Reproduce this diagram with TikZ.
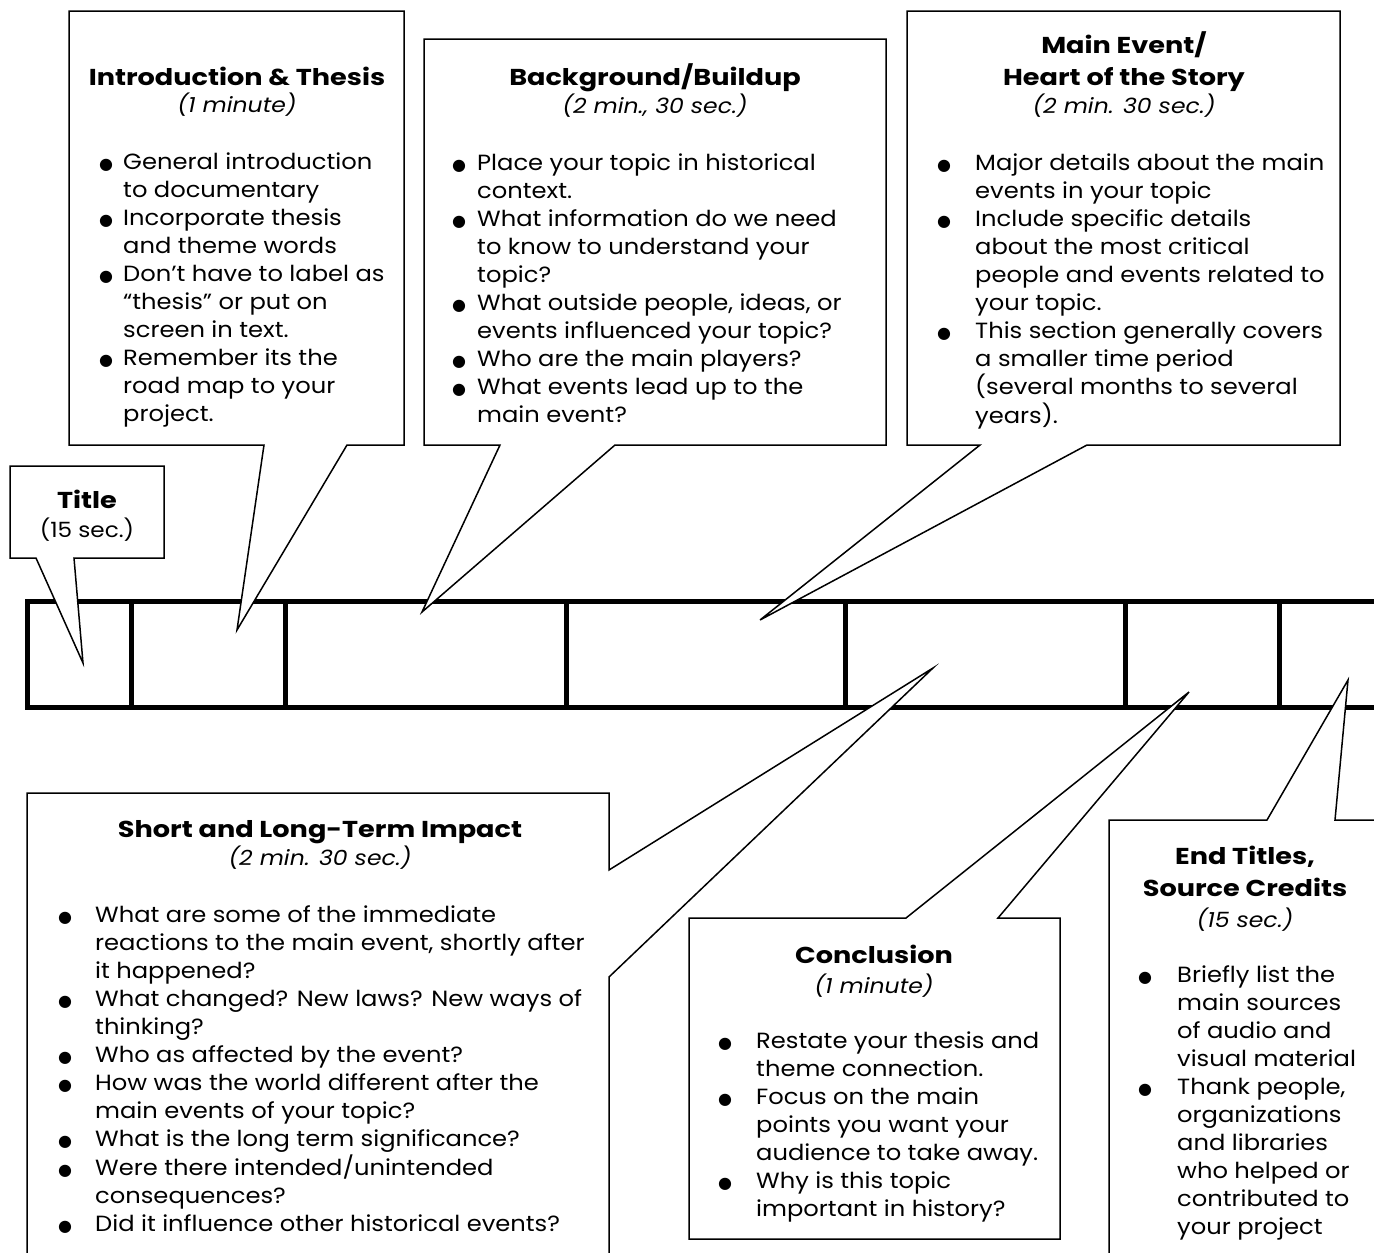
\documentclass[tikz,border=0pt]{standalone}
\usepackage{fontspec}
\setmainfont{Poppins}[FakeStretch=1.1]
\newfontfamily\headfont{Poppins}[FakeStretch=1.18]
\newfontfamily\subfont{Poppins}[FakeStretch=1.12]
\newfontfamily\symfont{DejaVu Sans}
\usetikzlibrary{positioning}
\newcommand{\dotmark}{{\symfont\fontsize{16}{16}\selectfont ●}}
\newcommand{\bitems}[2]{\begin{tabular}[t]{@{}p{#1}@{}l@{}}#2\end{tabular}}
\tikzset{
  bar/.style={line width=5pt,line join=miter},
  callout/.style={draw=black,fill=white,line width=1.5pt,line join=miter},
  head/.style={anchor=base,inner sep=0pt,font=\headfont\bfseries\fontsize{23}{28}\selectfont},
  sub/.style={anchor=base,inner sep=0pt,font=\subfont\itshape\fontsize{21}{28}\selectfont},
  plain/.style={anchor=base,inner sep=0pt,font=\fontsize{21}{28}\selectfont},
  body/.style={anchor=base west,inner sep=0pt,font=\fontsize{22}{28}\selectfont},
}
\begin{document}
\begin{tikzpicture}[x=1pt,y=-1pt]
\useasboundingbox (0,0) rectangle (1374,1253);

% timeline
\draw[bar] (1390,601) -- (27,601) -- (27,707) -- (1390,707);
\foreach \x in {131,285,566,845,1125,1279}
  \draw[bar] (\x,601) -- (\x,707);

% tail tips inside the timeline
\coordinate (tipTitle) at (83,663);
\coordinate (tipIntro) at (237,630);
\coordinate (tipBack)  at (422,612);
\coordinate (tipMain)  at (760,620);
\coordinate (tipImp)   at (933,668);
\coordinate (tipConc)  at (1189,692);
\coordinate (tipEnd)   at (1348,680);

% callouts
\draw[callout] (10,466) -- (164,466) -- (164,558) -- (74,558) -- (tipTitle) -- (36,558) -- (10,558) -- cycle;
\draw[callout] (69,11) -- (404,11) -- (404,445) -- (347,445) -- (tipIntro) -- (264,445) -- (69,445) -- cycle;
\draw[callout] (424,39) -- (886,39) -- (886,445) -- (615,445) -- (tipBack) -- (500,445) -- (424,445) -- cycle;
\draw[callout] (907,11) -- (1340,11) -- (1340,445) -- (1087,445) -- (tipMain) -- (980,445) -- (907,445) -- cycle;
\draw[callout] (27,793) -- (609,793) -- (609,870) -- (tipImp) -- (609,977) -- (609,1270) -- (27,1270) -- cycle;
\draw[callout] (689,918) -- (906,918) -- (tipConc) -- (998,918) -- (1060,918) -- (1060,1239) -- (689,1239) -- cycle;
\draw[callout] (1109,820) -- (1267,820) -- (tipEnd) -- (1335,820) -- (1390,820) -- (1390,1270) -- (1109,1270) -- cycle;

% Title
\node[head] (titleHead) at (87,508) {Title};
\node[plain] (titleSub) at (87,537) {(15 sec.)};

% Introduction
\node[head] (introHead) at (237,85) {Introduction \& Thesis};
\node[sub] (introSub) at (237,112) {(1 minute)};
\node[body] (introList) at (99,169) {\bitems{24pt}{%
  \dotmark & General introduction\\
           & to documentary\\
  \dotmark & Incorporate thesis\\
           & and theme words\\
  \dotmark & Don’t have to label as\\
           & “thesis” or put on\\
           & screen in text.\\
  \dotmark & Remember its the\\
           & road map to your\\
           & project.}};

% Background
\node[head] (backHead) at (655,85) {Background/Buildup};
\node[sub] (backSub) at (655,113) {(2 min., 30 sec.)};
\node[body] (backList) at (452,170) {\bitems{25pt}{%
  \dotmark & Place your topic in historical\\
           & context.\\
  \dotmark & What information do we need\\
           & to know to understand your\\
           & topic?\\
  \dotmark & What outside people, ideas, or\\
           & events influenced your topic?\\
  \dotmark & Who are the main players?\\
  \dotmark & What events lead up to the\\
           & main event?}};

% Main event
\node[head] (mainHeadA) at (1124,53) {Main Event/};
\node[head] (mainHeadB) at (1124,85) {Heart of the Story};
\node[sub] (mainSub) at (1124,113) {(2 min. 30 sec.)};
\node[body] (mainList) at (937,170) {\bitems{38pt}{%
  \dotmark & Major details about the main\\
           & events in your topic\\
  \dotmark & Include specific details\\
           & about the most critical\\
           & people and events related to\\
           & your topic.\\
  \dotmark & This section generally covers\\
           & a smaller time period\\
           & (several months to several\\
           & years).}};

% Impact
\node[head] (impHead) at (320,837) {Short and Long-Term Impact};
\node[sub] (impSub) at (320,865) {(2 min. 30 sec.)};
\node[body] (impList) at (58,922) {\bitems{37pt}{%
  \dotmark & What are some of the immediate\\
           & reactions to the main event, shortly after\\
           & it happened?\\
  \dotmark & What changed? New laws? New ways of\\
           & thinking?\\
  \dotmark & Who as affected by the event?\\
  \dotmark & How was the world different after the\\
           & main events of your topic?\\
  \dotmark & What is the long term significance?\\
  \dotmark & Were there intended/unintended\\
           & consequences?\\
  \dotmark & Did it influence other historical events?}};

% Conclusion
\node[head] (concHead) at (874,963) {Conclusion};
\node[sub] (concSub) at (874,993) {(1 minute)};
\node[body] (concList) at (718,1048) {\bitems{38pt}{%
  \dotmark & Restate your thesis and\\
           & theme connection.\\
  \dotmark & Focus on the main\\
           & points you want your\\
           & audience to take away.\\
  \dotmark & Why is this topic\\
           & important in history?}};

% End titles
\node[head] (endHeadA) at (1245,864) {End Titles,};
\node[head] (endHeadB) at (1245,896) {Source Credits};
\node[sub] (endSub) at (1245,927) {(15 sec.)};
\node[body] (endList) at (1138,982) {\bitems{39pt}{%
  \dotmark & Briefly list the\\
           & main sources\\
           & of audio and\\
           & visual material\\
  \dotmark & Thank people,\\
           & organizations\\
           & and libraries\\
           & who helped or\\
           & contributed to\\
           & your project}};
\end{tikzpicture}
\end{document}
